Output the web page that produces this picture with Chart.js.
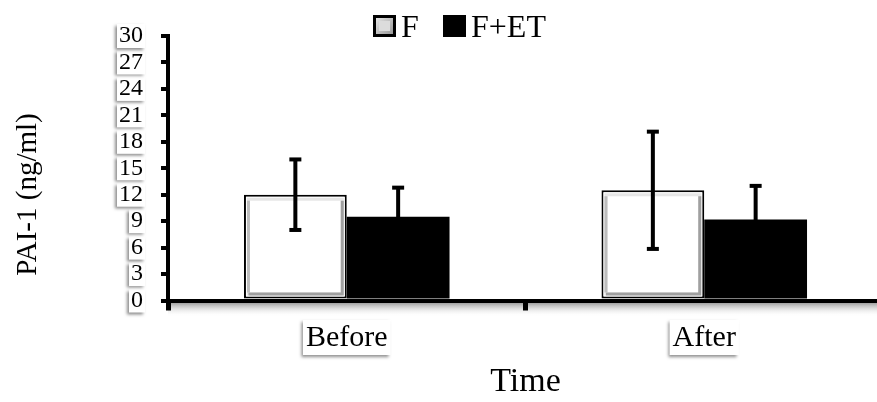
<!DOCTYPE html>
<html><head><meta charset="utf-8">
<script src="https://cdn.jsdelivr.net/npm/chart.js@4"></script>
<style>html,body{margin:0;padding:0;background:#fff;overflow:hidden}#wrap{width:877px;height:402px;position:relative;overflow:hidden}canvas{display:block}</style>
</head><body><div id="wrap"><canvas id="c" width="883" height="402"></canvas></div>
<script>
const categories = ['Before', 'After'];
const seriesLabels = ['F', 'F+ET'];
const fMeans = [12.0, 12.5];
const fErrors = [4.0, 6.65];
const fetMeans = [9.5, 9.2];
const fetErrors = [3.3, 3.8];
const yMin = 0, yMax = 30, yStep = 3;
const yTitle = 'PAI-1 (ng/ml)';
const xTitle = 'Time';

const FONT = '"Liberation Serif", "Times New Roman", serif';
const errorSets = [fErrors, fetErrors];

const backdrop = {
  id: 'backdrop',
  beforeDraw(chart) {
    const ctx = chart.ctx;
    const xs = chart.scales.x, ys = chart.scales.y;
    ctx.save();
    const g = ctx.createLinearGradient(0, xs.top + 2, 0, xs.top + 16);
    g.addColorStop(0, 'rgba(120,120,120,0.75)');
    g.addColorStop(1, 'rgba(255,255,255,0)');
    ctx.fillStyle = g;
    ctx.fillRect(ys.right, xs.top + 2, chart.width - ys.right, 14);
    ctx.font = '24px ' + FONT;
    ctx.shadowColor = 'rgba(0,0,0,0.45)';
    ctx.shadowBlur = 3;
    ctx.shadowOffsetX = -2;
    ctx.shadowOffsetY = 2;
    ctx.fillStyle = '#fff';
    ys.ticks.forEach((t, i) => {
      const y = ys.getPixelForTick(i);
      const w = ctx.measureText(String(t.label)).width;
      const right = ys.right - 7 - 18 + 2;
      ctx.fillRect(right - w - 4, y - 12, w + 4, 24);
    });
    ctx.font = '30px ' + FONT;
    xs.ticks.forEach((t, i) => {
      const x = xs.getPixelForTick(i);
      const w = ctx.measureText(String(t.label)).width;
      ctx.fillRect(x - w / 2 - 3, 320, w + 6, 35);
    });
    ctx.restore();
  }
};

const decor = {
  id: 'decor',
  afterDatasetsDraw(chart) {
    const ctx = chart.ctx;
    const ys = chart.scales.y;
    ctx.save();
    chart.getDatasetMeta(0).data.forEach(el => {
      const l = el.x - el.width / 2, r = el.x + el.width / 2, t = el.y, b = el.base;
      ctx.lineWidth = 3;
      ctx.strokeStyle = '#e6e6e6';
      ctx.strokeRect(l + 4.5, t + 4.5, r - l - 9, b - t - 9);
      ctx.strokeStyle = '#a0a0a0';
      ctx.beginPath();
      ctx.moveTo(l + 4.5, b - 4.5); ctx.lineTo(r - 4.5, b - 4.5); ctx.lineTo(r - 4.5, t + 6);
      ctx.stroke();
      ctx.strokeStyle = '#bdbdbd';
      ctx.beginPath();
      ctx.moveTo(l + 4.5, b - 6); ctx.lineTo(l + 4.5, t + 6);
      ctx.stroke();
    });
    chart.data.datasets.forEach((ds, di) => {
      chart.getDatasetMeta(di).data.forEach((el, i) => {
        const m = ds.data[i], e = errorSets[di][i];
        const yt = ys.getPixelForValue(m + e), yb = ys.getPixelForValue(m - e);
        ctx.fillStyle = '#000';
        ctx.fillRect(el.x - 2, yt, 4, yb - yt);
        ctx.fillRect(el.x - 6, yt - 2, 12, 4);
        ctx.fillRect(el.x - 6, yb - 2, 12, 4);
      });
    });
    ctx.restore();
  },
  afterDraw(chart) {
    const ctx = chart.ctx;
    ctx.save();
    ctx.translate(28, 194.5);
    ctx.rotate(-Math.PI / 2);
    ctx.font = '29px ' + FONT;
    ctx.fillStyle = '#000';
    ctx.textAlign = 'center';
    ctx.textBaseline = 'middle';
    ctx.fillText(yTitle, 0, 0);
    ctx.restore();
    ctx.save();
    const items = [{bx: 373, tx: 401}, {bx: 443, tx: 471}];
    chart.data.datasets.forEach((ds, i) => {
      const it = items[i];
      ctx.fillStyle = '#000';
      ctx.fillRect(it.bx, 15, 23, 22);
      if (i === 0) {
        const g = ctx.createLinearGradient(it.bx, 15, it.bx + 23, 37);
        g.addColorStop(0, '#f4f4f4');
        g.addColorStop(1, '#8a8a8a');
        ctx.fillStyle = g;
        ctx.fillRect(it.bx + 3, 18, 17, 16);
        ctx.fillStyle = '#dcdcdc';
        ctx.fillRect(it.bx + 6, 21, 11, 10);
      }
      ctx.fillStyle = '#000';
      ctx.font = '32px ' + FONT;
      ctx.textBaseline = 'alphabetic';
      ctx.fillText(ds.label, it.tx, 37);
    });
    ctx.restore();
  }
};

new Chart(document.getElementById('c'), {
  type: 'bar',
  data: {
    labels: categories,
    datasets: [
      { label: seriesLabels[0], data: fMeans, backgroundColor: '#fff', borderColor: '#000', borderWidth: 2, borderSkipped: false },
      { label: seriesLabels[1], data: fetMeans, backgroundColor: '#000', borderColor: '#000', borderWidth: 0 }
    ]
  },
  options: {
    responsive: false,
    animation: false,
    devicePixelRatio: 1,
    layout: { padding: { top: 36, right: 0, left: 0, bottom: 0 } },
    datasets: { bar: { categoryPercentage: 0.575, barPercentage: 1 } },
    plugins: { legend: { display: false }, tooltip: { enabled: false } },
    scales: {
      x: {
        offset: true,
        grid: { display: true, offset: true, drawOnChartArea: false, drawTicks: true, tickLength: 10, lineWidth: 5, color: '#000' },
        border: { display: true, width: 4, color: '#000' },
        ticks: { font: { family: FONT, size: 30 }, color: '#000', padding: 10, maxRotation: 0 },
        title: { display: true, text: xTitle, font: { family: FONT, size: 34 }, color: '#000', padding: { top: 0, bottom: 0 } },
        afterFit(s) { s.height = 101.5; }
      },
      y: {
        min: yMin, max: yMax,
        grid: { display: true, drawOnChartArea: false, drawTicks: true, tickLength: 7, lineWidth: 4, color: '#000' },
        border: { display: true, width: 4, color: '#000' },
        ticks: { stepSize: yStep, autoSkip: false, font: { family: FONT, size: 24 }, color: '#000', padding: 18 },
        afterFit(s) { s.width = 168; }
      }
    }
  },
  plugins: [backdrop, decor]
});
</script>
</body></html>
